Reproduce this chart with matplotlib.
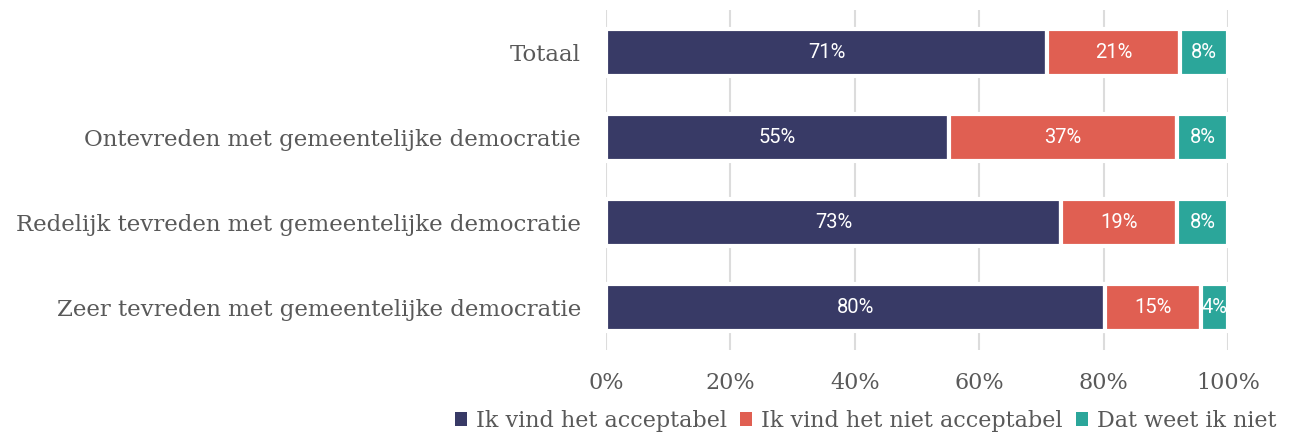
import matplotlib.pyplot as plt
from matplotlib.patches import Patch

# data (percent, top to bottom)
categories = [
    "Totaal",
    "Ontevreden met gemeentelijke democratie",
    "Redelijk tevreden met gemeentelijke democratie",
    "Zeer tevreden met gemeentelijke democratie",
]
acceptabel = [70.9, 55.1, 73.2, 80.2]
niet_acceptabel = [21.4, 36.7, 18.6, 15.4]
weet_niet = [7.7, 8.2, 8.2, 4.4]
series_names = ["Ik vind het acceptabel", "Ik vind het niet acceptabel", "Dat weet ik niet"]
xticks = [0, 20, 40, 60, 80, 100]

colors = ["#383a66", "#e05f52", "#2ba69a"]
serif = "DejaVu Serif"
text_gray = "#595959"

fig = plt.figure(figsize=(12.96, 4.34), dpi=100)
ax = fig.add_axes([0.4676, 0.1935, 0.4799, 0.7835])

y = list(range(len(categories)))
left = [0] * len(categories)
for vals, col in zip([acceptabel, niet_acceptabel, weet_niet], colors):
    ax.barh(y, vals, left=left, height=0.56, color=col, edgecolor="white",
            linewidth=3, zorder=3)
    for yi, l, v in zip(y, left, vals):
        ax.text(l + v / 2, yi, f"{round(v)}%", ha="center", va="center",
                color="white", fontsize=14.5, family="Roboto", zorder=4)
    left = [a + b for a, b in zip(left, vals)]

ax.set_xlim(0, 100)
ax.set_ylim(3.5, -0.5)
ax.set_xticks(xticks)
ax.set_xticklabels([f"{t}%" for t in xticks], family=serif, fontsize=16, color=text_gray)
ax.set_yticks(y)
ax.set_yticklabels(categories, family=serif, fontsize=16.5, color=text_gray)
ax.tick_params(length=0, pad=16, axis="x")
ax.tick_params(length=0, pad=18, axis="y")
ax.xaxis.grid(True, color="#dcdcdc", linewidth=1.5, zorder=0)
ax.set_axisbelow(True)
for s in ax.spines.values():
    s.set_visible(False)

handles = [Patch(facecolor=c, edgecolor="none") for c in colors]
fig.legend(handles, series_names, loc="center", bbox_to_anchor=(0.668, 0.03),
           ncol=3, frameon=False, handlelength=0.55, handleheight=0.55,
           handletextpad=0.4, columnspacing=0.6,
           prop={"family": serif, "size": 16}, labelcolor=text_gray)

fig.savefig("out.png", dpi=100)
